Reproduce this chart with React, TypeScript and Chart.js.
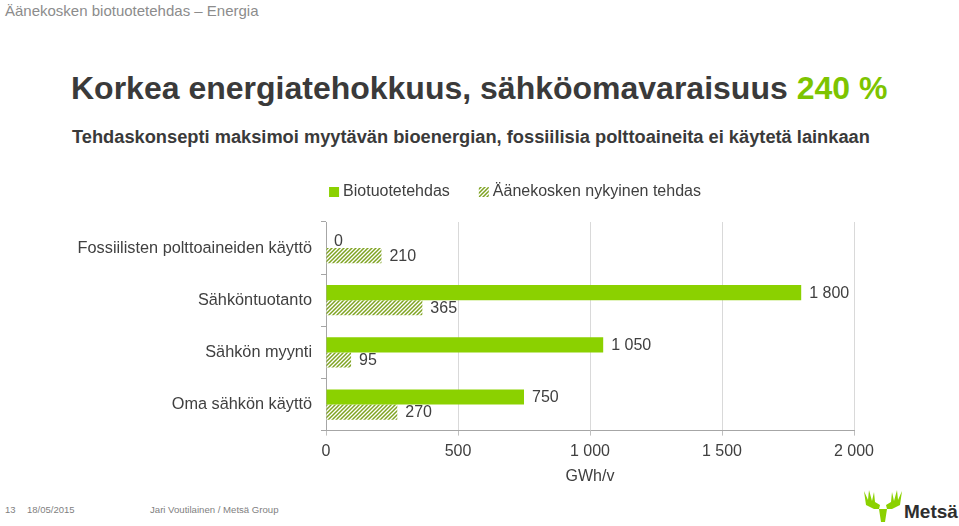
import React, { useEffect, useRef } from "react";
import { Chart, registerables } from "chart.js";

Chart.register(...registerables);

const categories = [
  "Fossiilisten polttoaineiden käyttö",
  "Sähköntuotanto",
  "Sähkön myynti",
  "Oma sähkön käyttö",
];
const seriesNames = ["Biotuotetehdas", "Äänekosken nykyinen tehdas"];
const bioValues = [0, 1800, 1050, 750];
const currentValues = [210, 365, 95, 270];
const xTicks = [0, 500, 1000, 1500, 2000];
const axisTitle = "GWh/v";

const FONT = '"Liberation Sans", Arial, sans-serif';
const GREEN = "#8bd100";
const HATCH = "#7fa322";
const TEXT = "#404040";

const CANVAS_LEFT = 72;
const CANVAS_TOP = 168;

function fmt(v: number): string {
  return String(v).replace(/\B(?=(\d{3})+(?!\d))/g, " ");
}

function makePattern(): CanvasPattern | string {
  const p = document.createElement("canvas");
  p.width = 4;
  p.height = 4;
  const c = p.getContext("2d");
  if (!c) return HATCH;
  c.fillStyle = "#ffffff";
  c.fillRect(0, 0, 4, 4);
  c.strokeStyle = HATCH;
  c.lineWidth = 1.5;
  c.beginPath();
  c.moveTo(0, 4);
  c.lineTo(4, 0);
  c.moveTo(-1, 1);
  c.lineTo(1, -1);
  c.moveTo(3, 5);
  c.lineTo(5, 3);
  c.stroke();
  const pat = c.createPattern(p, "repeat");
  return pat || HATCH;
}

const valueLabels = {
  id: "valueLabels",
  afterDatasetsDraw(chart: any) {
    const ctx = chart.ctx;
    ctx.save();
    ctx.font = `16px ${FONT}`;
    ctx.fillStyle = TEXT;
    ctx.textBaseline = "middle";
    ctx.textAlign = "left";
    chart.data.datasets.forEach((ds: any, i: number) => {
      const meta = chart.getDatasetMeta(i);
      meta.data.forEach((bar: any, j: number) => {
        ctx.fillText(fmt(ds.data[j]), bar.x + 8, bar.y + 1);
      });
    });
    ctx.restore();
  },
};

const customLegend = {
  id: "customLegend",
  afterDraw(chart: any) {
    const ctx = chart.ctx;
    ctx.save();
    ctx.font = `16px ${FONT}`;
    ctx.textBaseline = "middle";
    ctx.textAlign = "left";
    const box = 10;
    const gap = 4;
    const itemGap = 29;
    const items = chart.data.datasets.map((ds: any) => ({
      fill: ds.backgroundColor,
      text: ds.label as string,
      w: ctx.measureText(ds.label).width,
    }));
    const total =
      items.reduce((a: number, it: any) => a + box + gap + it.w, 0) + itemGap * (items.length - 1);
    const cx = 515 - CANVAS_LEFT;
    const cy = 192 - CANVAS_TOP;
    let x = cx - total / 2;
    items.forEach((it: any) => {
      ctx.fillStyle = it.fill;
      ctx.fillRect(x, cy - box / 2, box, box);
      ctx.fillStyle = TEXT;
      ctx.fillText(it.text, x + box + gap, cy);
      x += box + gap + it.w + itemGap;
    });
    ctx.restore();
  },
};

function ChartBox() {
  const ref = useRef<HTMLCanvasElement | null>(null);
  useEffect(() => {
    if (!ref.current) return;
    const pattern = makePattern();
    const chart = new Chart(ref.current, {
      type: "bar",
      data: {
        labels: categories,
        datasets: [
          {
            label: seriesNames[0],
            data: bioValues,
            backgroundColor: GREEN,
            borderWidth: 0,
            xAxisID: "x",
            yAxisID: "y",
          },
          {
            label: seriesNames[1],
            data: currentValues,
            backgroundColor: pattern as any,
            borderWidth: 0,
            xAxisID: "x",
            yAxisID: "y",
          },
        ],
      },
      options: {
        indexAxis: "y",
        animation: false,
        responsive: false,
        maintainAspectRatio: false,
        events: [],
        layout: { padding: { top: 54, bottom: 2, left: 0, right: 0 } },
        datasets: {
          bar: { categoryPercentage: 0.58, barPercentage: 1.0 },
        },
        scales: {
          x: {
            type: "linear",
            min: 0,
            max: 2000,
            afterBuildTicks: (s: any) => {
              s.ticks = xTicks.map((v) => ({ value: v }));
            },
            ticks: {
              color: TEXT,
              font: { family: FONT, size: 16 },
              padding: 6,
              callback: (v: any) => fmt(Number(v)),
            },
            grid: {
              color: "#d9d9d9",
              lineWidth: 1,
              drawTicks: true,
              tickLength: 5,
              tickColor: "#bfbfbf",
            },
            border: { display: true, color: "#a6a6a6", width: 1 },
            title: {
              display: true,
              text: axisTitle,
              color: TEXT,
              font: { family: FONT, size: 16 },
              padding: { top: 0, bottom: 0 },
            },
          },
          y: {
            type: "category",
            position: "left",
            afterFit: (s: any) => {
              s.width = 254;
            },
            ticks: {
              color: TEXT,
              font: { family: FONT, size: 16.3 },
              padding: 9,
            },
            grid: {
              drawOnChartArea: false,
              drawTicks: true,
              tickLength: 5,
              tickColor: "#a6a6a6",
              offset: true,
            },
            border: { display: true, color: "#a6a6a6", width: 1 },
          },
          yRight: {
            type: "category",
            position: "right",
            labels: categories,
            afterFit: (s: any) => {
              s.width = 104;
            },
            ticks: { display: false },
            grid: { display: false, drawTicks: false },
            border: { display: false },
          },
        },
        plugins: {
          legend: { display: false },
          tooltip: { enabled: false },
          title: { display: false },
        },
      },
      plugins: [valueLabels, customLegend],
    } as any);
    return () => chart.destroy();
  }, []);
  return (
    <canvas
      ref={ref}
      width={886}
      height={320}
      style={{ position: "absolute", left: CANVAS_LEFT, top: CANVAS_TOP, width: 886, height: 320 }}
    />
  );
}

function Logo() {
  return (
    <div style={{ position: "absolute", left: 864, top: 488, width: 95, height: 36 }}>
      <svg width="38" height="36" viewBox="0 0 38 36" style={{ position: "absolute", left: 0, top: 0 }}>
        <polygon
          fill={GREEN}
          points="0,3 4,12 5,2 8,13 10,4 11,14 16,17 15,21 17,34 21,34 23,21 22,17 27,14 28,4 30,13 33,2 34,12 38,3 36,17 28,21 10,21 2,17"
        />
      </svg>
      <div
        style={{
          position: "absolute",
          left: 40,
          top: 14,
          fontFamily: FONT,
          fontWeight: 700,
          fontSize: 19,
          lineHeight: "20px",
          color: "#2e2e2e",
        }}
      >
        Metsä
      </div>
    </div>
  );
}

export default function App() {
  const abs = (o: any) => ({ position: "absolute" as const, whiteSpace: "nowrap" as const, fontFamily: FONT, ...o });
  return (
    <div
      style={{
        position: "fixed",
        left: 0,
        top: 0,
        width: 959,
        height: 526,
        background: "#ffffff",
        overflow: "hidden",
      }}
    >
      <div style={abs({ left: 5, top: 2, fontSize: 15, lineHeight: "18px", color: "#8c8c8c" })}>
        Äänekosken biotuotetehdas – Energia
      </div>
      <div style={abs({ left: 71, top: 70, fontSize: 32, lineHeight: "36px", fontWeight: 700, color: "#3a3a3a" })}>
        Korkea energiatehokkuus, sähköomavaraisuus <span style={{ color: "#7dc400" }}>240 %</span>
      </div>
      <div style={abs({ left: 72, top: 127, fontSize: 18.25, lineHeight: "20px", fontWeight: 700, color: "#3a3a3a" })}>
        Tehdaskonsepti maksimoi myytävän bioenergian, fossiilisia polttoaineita ei käytetä lainkaan
      </div>
      <ChartBox />
      <div style={abs({ left: 5, top: 504, fontSize: 9.5, lineHeight: "12px", color: "#7f7f7f" })}>13</div>
      <div style={abs({ left: 27, top: 504, fontSize: 9.5, lineHeight: "12px", color: "#7f7f7f" })}>18/05/2015</div>
      <div style={abs({ left: 150, top: 504, fontSize: 9.6, lineHeight: "12px", color: "#7f7f7f" })}>
        Jari Voutilainen / Metsä Group
      </div>
      <Logo />
    </div>
  );
}
